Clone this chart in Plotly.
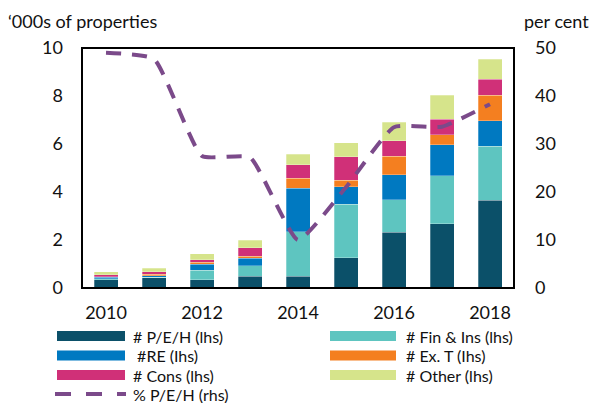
import plotly.graph_objects as go

# Property counts by industry ('000s) and the P/E/H share (per cent)
years = [2010, 2011, 2012, 2013, 2014, 2015, 2016, 2017, 2018]
peh = [0.35, 0.43, 0.35, 0.50, 0.50, 1.27, 2.32, 2.67, 3.65]
fin_ins = [0.03, 0.02, 0.40, 0.42, 1.85, 2.23, 1.35, 2.00, 2.25]
re = [0.07, 0.07, 0.25, 0.33, 1.80, 0.72, 1.05, 1.30, 1.07]
ex_t = [0.02, 0.05, 0.08, 0.08, 0.42, 0.28, 0.77, 0.42, 1.07]
cons = [0.08, 0.10, 0.09, 0.34, 0.57, 0.97, 0.65, 0.65, 0.66]
other = [0.13, 0.16, 0.25, 0.33, 0.43, 0.58, 0.76, 1.00, 0.84]
pct_peh = [49.0, 47.7, 27.5, 27.2, 10.0, 21.0, 33.5, 33.6, 38.3]

lhs_ticks = [0, 2, 4, 6, 8, 10]
rhs_ticks = [0, 10, 20, 30, 40, 50]
year_ticks = [2010, 2012, 2014, 2016, 2018]

C_PEH = "#0b5069"
C_FIN = "#5ec5c0"
C_RE = "#0079c1"
C_EXT = "#f47f20"
C_CONS = "#d03078"
C_OTHER = "#d6e48b"
C_LINE = "#7b4a8a"

FONT = "Lato"
FS = 18
FS_LEG = 16
TXT = "#111111"

W, H = 593, 403
L, R, T, B = 82, 79, 48, 115
PW, PH = W - L - R, H - T - B

series = [
    ("# P/E/H (lhs)", peh, C_PEH),
    ("# Fin & Ins (lhs)", fin_ins, C_FIN),
    (" #RE (Ihs)", re, C_RE),
    ("# Ex. T (Ihs)", ex_t, C_EXT),
    ("# Cons (lhs)", cons, C_CONS),
    ("# Other (lhs)", other, C_OTHER),
]

fig = go.Figure()
for name, vals, col in series:
    fig.add_trace(go.Bar(
        x=years, y=vals, name=name, width=0.5,
        marker=dict(color=col, line=dict(width=0.6, color="rgba(255,255,255,0.45)")),
        showlegend=False,
    ))

fig.add_trace(go.Scatter(
    x=years, y=pct_peh, yaxis="y2", mode="lines", name="% P/E/H (rhs)",
    line=dict(color=C_LINE, width=4, dash="15px,11px", shape="spline", smoothing=0.45),
    showlegend=False,
))


def px_x(px):
    return (px - L) / PW


def px_y(py):
    return (H - B - py) / PH


shapes = []
annotations = []

# Hand-drawn legend: wide colour swatches with labels, two columns
legend_rows = [336, 355.5, 375, 394]
col_swatch = [(57, 125), (330, 396)]
col_text = [132, 405]
layout_items = [
    (0, 0, series[0]), (0, 1, series[1]),
    (1, 0, series[2]), (1, 1, series[3]),
    (2, 0, series[4]), (2, 1, series[5]),
]


def legend_label(text, x, y):
    return dict(
        x=x, y=y, xref="paper", yref="paper", text=text, showarrow=False,
        xanchor="left", yanchor="middle", borderpad=0,
        font=dict(family=FONT, size=FS_LEG, color=TXT),
    )


for r, c, (name, _, col) in layout_items:
    yc = legend_rows[r]
    x0, x1 = col_swatch[c]
    shapes.append(dict(
        type="rect", xref="paper", yref="paper",
        x0=px_x(x0), x1=px_x(x1), y0=px_y(yc + 5), y1=px_y(yc - 5),
        fillcolor=col, line=dict(width=0), layer="above",
    ))
    annotations.append(legend_label(name, px_x(col_text[c]), px_y(yc)))

shapes.append(dict(
    type="line", xref="paper", yref="paper",
    x0=px_x(55), x1=px_x(126), y0=px_y(legend_rows[3]), y1=px_y(legend_rows[3]),
    line=dict(color=C_LINE, width=4, dash="16px,15px"),
))
annotations.append(legend_label("% P/E/H (rhs)", px_x(col_text[0]), px_y(legend_rows[3])))

# Axis unit labels
annotations.append(dict(
    x=px_x(6), y=px_y(21), xref="paper", yref="paper", text="\u2018000s of properties",
    showarrow=False, xanchor="left", yanchor="middle",
    font=dict(family=FONT, size=FS, color=TXT),
))
annotations.append(dict(
    x=px_x(591), y=px_y(21), xref="paper", yref="paper", text="per cent",
    showarrow=False, xanchor="right", yanchor="middle",
    font=dict(family=FONT, size=FS, color=TXT),
))

# Plot frame
shapes.append(dict(
    type="rect", xref="paper", yref="paper", x0=0, x1=1, y0=0, y1=1,
    line=dict(color="black", width=2), fillcolor="rgba(0,0,0,0)", layer="above",
))

fig.update_layout(
    width=W, height=H,
    margin=dict(l=L, r=R, t=T, b=B, pad=0),
    paper_bgcolor="white", plot_bgcolor="white",
    barmode="stack", bargap=0.5,
    font=dict(family=FONT, size=FS, color=TXT),
    xaxis=dict(
        range=[2009.5, 2018.5], tickvals=year_ticks, ticktext=[str(y) for y in year_ticks],
        showgrid=False, zeroline=False, ticks="", ticklabelstandoff=12,
        tickfont=dict(family=FONT, size=FS, color=TXT),
    ),
    yaxis=dict(
        range=[0, 10], tickvals=lhs_ticks, showgrid=False, zeroline=False,
        ticks="", ticklabelstandoff=18,
        tickfont=dict(family=FONT, size=FS, color=TXT),
    ),
    yaxis2=dict(
        range=[0, 50], tickvals=rhs_ticks, overlaying="y", side="right",
        showgrid=False, zeroline=False, ticks="", ticklabelstandoff=20,
        tickfont=dict(family=FONT, size=FS, color=TXT),
    ),
    shapes=shapes,
    annotations=annotations,
    showlegend=False,
)

fig.write_html("out.html")
